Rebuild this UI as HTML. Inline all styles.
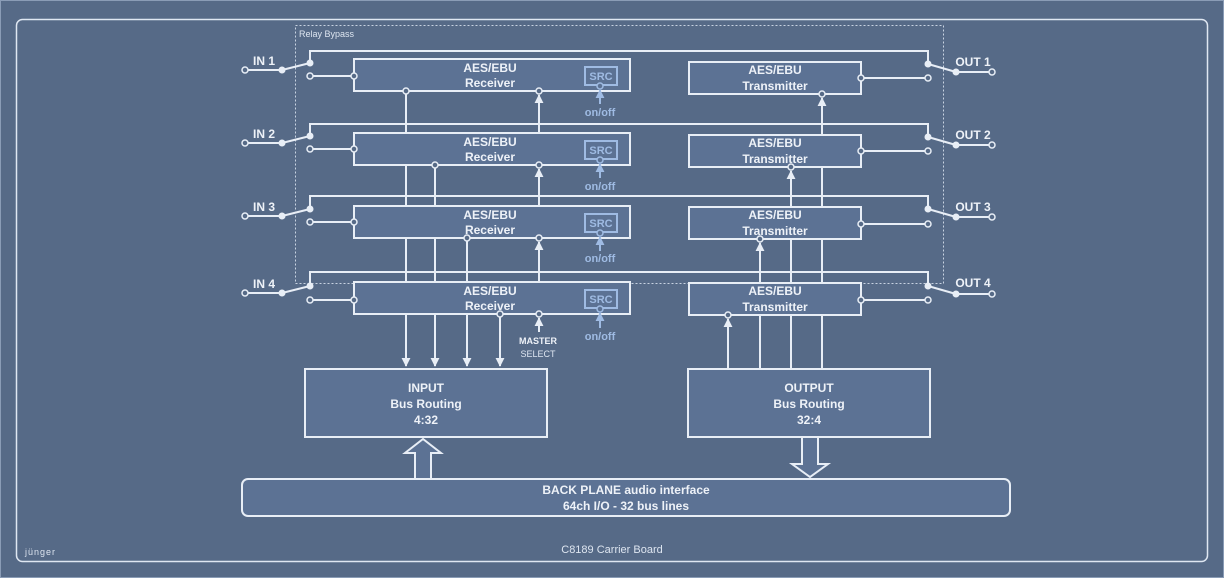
<!DOCTYPE html>
<html><head><meta charset="utf-8"><style>
html,body{margin:0;padding:0;background:#556983;}
svg{display:block;font-family:"Liberation Sans",sans-serif;}
.b{font-weight:bold;fill:#eef2f8;font-size:12px;text-anchor:middle;}
</style></head><body>
<svg width="1224" height="578" viewBox="0 0 1224 578" xmlns="http://www.w3.org/2000/svg">
<defs>
<marker id="ah" viewBox="0 0 10 10" refX="9" refY="5" markerWidth="9" markerHeight="9" markerUnits="userSpaceOnUse" orient="auto"><path d="M0,0 L10,5 L0,10 Z" fill="#e8eef6"/></marker>
<marker id="ab" viewBox="0 0 10 10" refX="9" refY="5" markerWidth="9" markerHeight="9" markerUnits="userSpaceOnUse" orient="auto"><path d="M0,0 L10,5 L0,10 Z" fill="#9fbbe3"/></marker>
</defs>
<rect x="0.5" y="0.5" width="1223" height="577" fill="#566a87" stroke="#8a9cb6"/>
<rect x="16.5" y="19.5" width="1191" height="542" rx="6" fill="#566a87" stroke="#dfe7f2" stroke-width="1.5"/>
<rect x="295.5" y="25.5" width="648" height="258" fill="none" stroke="#c8d3e2" stroke-dasharray="2,2"/>
<text x="299" y="37" font-size="9" fill="#dde5f0">Relay Bypass</text>

<g stroke="#e8eef6" stroke-width="2" fill="none">
<!-- bypass lines -->
<polyline points="310,63 310,51 928,51 928,64"/>
<polyline points="310,136 310,124 928,124 928,137"/>
<polyline points="310,209 310,196 928,196 928,209"/>
<polyline points="310,285 310,272 928,272 928,285"/>
<!-- input switch -->
<g>
<line x1="245" y1="70" x2="282" y2="70"/><line x1="282" y1="70" x2="310" y2="63"/><line x1="310" y1="76" x2="354" y2="76"/>
<line x1="245" y1="143" x2="282" y2="143"/><line x1="282" y1="143" x2="310" y2="136"/><line x1="310" y1="149" x2="354" y2="149"/>
<line x1="245" y1="216" x2="282" y2="216"/><line x1="282" y1="216" x2="310" y2="209"/><line x1="310" y1="222" x2="354" y2="222"/>
<line x1="245" y1="293" x2="282" y2="293"/><line x1="282" y1="293" x2="310" y2="286"/><line x1="310" y1="300" x2="354" y2="300"/>
</g>
<!-- output switch -->
<g>
<line x1="928" y1="64" x2="956" y2="72"/><line x1="956" y1="72" x2="992" y2="72"/><line x1="861" y1="78" x2="928" y2="78"/>
<line x1="928" y1="137" x2="956" y2="145"/><line x1="956" y1="145" x2="992" y2="145"/><line x1="861" y1="151" x2="928" y2="151"/>
<line x1="928" y1="209" x2="956" y2="217"/><line x1="956" y1="217" x2="992" y2="217"/><line x1="861" y1="224" x2="928" y2="224"/>
<line x1="928" y1="286" x2="956" y2="294"/><line x1="956" y1="294" x2="992" y2="294"/><line x1="861" y1="300" x2="928" y2="300"/>
</g>
<!-- receiver outputs -->
<line x1="406" y1="91" x2="406" y2="366" marker-end="url(#ah)"/>
<line x1="435" y1="165" x2="435" y2="366" marker-end="url(#ah)"/>
<line x1="467" y1="238" x2="467" y2="366" marker-end="url(#ah)"/>
<line x1="500" y1="314" x2="500" y2="366" marker-end="url(#ah)"/>
<!-- master select arrows -->
<line x1="539" y1="133" x2="539" y2="95" marker-end="url(#ah)"/>
<line x1="539" y1="206" x2="539" y2="169" marker-end="url(#ah)"/>
<line x1="539" y1="282" x2="539" y2="242" marker-end="url(#ah)"/>
<line x1="539" y1="332" x2="539" y2="318" marker-end="url(#ah)"/>
<!-- transmitter inputs -->
<line x1="822" y1="369" x2="822" y2="98" marker-end="url(#ah)"/>
<line x1="791" y1="369" x2="791" y2="171" marker-end="url(#ah)"/>
<line x1="760" y1="369" x2="760" y2="243" marker-end="url(#ah)"/>
<line x1="728" y1="369" x2="728" y2="319" marker-end="url(#ah)"/>
</g>

<g stroke="#e8eef6" stroke-width="2" fill="#5c7294">
<rect x="354" y="59" width="276" height="32"/>
<rect x="354" y="133" width="276" height="32"/>
<rect x="354" y="206" width="276" height="32"/>
<rect x="354" y="282" width="276" height="32"/>
<rect x="689" y="62" width="172" height="32"/>
<rect x="689" y="135" width="172" height="32"/>
<rect x="689" y="207" width="172" height="32"/>
<rect x="689" y="283" width="172" height="32"/>
<rect x="305" y="369" width="242" height="68"/>
<rect x="688" y="369" width="242" height="68"/>
<rect x="242" y="479" width="768" height="37" rx="6"/>
<path d="M415,478 L415,453 L405,453 L423,439 L441,453 L431,453 L431,478"/>
<path d="M802,438 L802,464 L792,464 L810,477 L828,464 L818,464 L818,438"/>
</g>

<!-- SRC -->
<g stroke="#9fbbe3" stroke-width="2" fill="none">
<rect x="585" y="67" width="32" height="18"/><rect x="585" y="141" width="32" height="18"/><rect x="585" y="214" width="32" height="18"/><rect x="585" y="290" width="32" height="18"/>
<line x1="600" y1="104" x2="600" y2="90" marker-end="url(#ab)"/>
<line x1="600" y1="178" x2="600" y2="164" marker-end="url(#ab)"/>
<line x1="600" y1="251" x2="600" y2="237" marker-end="url(#ab)"/>
<line x1="600" y1="328" x2="600" y2="313" marker-end="url(#ab)"/>
</g>
<g fill="#5c7294" stroke="#9fbbe3" stroke-width="1.5">
<circle cx="600" cy="86" r="3"/><circle cx="600" cy="160" r="3"/><circle cx="600" cy="233" r="3"/><circle cx="600" cy="309" r="3"/>
</g>
<g font-size="11" fill="#9fbbe3" text-anchor="middle" font-weight="bold">
<text x="601" y="80">SRC</text><text x="601" y="154">SRC</text><text x="601" y="227">SRC</text><text x="601" y="303">SRC</text>
<text x="600" y="116">on/off</text><text x="600" y="190">on/off</text><text x="600" y="262">on/off</text><text x="600" y="340">on/off</text>
</g>

<!-- circles -->
<g fill="#566a87" stroke="#e8eef6" stroke-width="1.5">
<circle cx="245" cy="70" r="3"/><circle cx="245" cy="143" r="3"/><circle cx="245" cy="216" r="3"/><circle cx="245" cy="293" r="3"/>
<circle cx="310" cy="76" r="3"/><circle cx="310" cy="149" r="3"/><circle cx="310" cy="222" r="3"/><circle cx="310" cy="300" r="3"/>
<circle cx="354" cy="76" r="3"/><circle cx="354" cy="149" r="3"/><circle cx="354" cy="222" r="3"/><circle cx="354" cy="300" r="3"/>
<circle cx="992" cy="72" r="3"/><circle cx="992" cy="145" r="3"/><circle cx="992" cy="217" r="3"/><circle cx="992" cy="294" r="3"/>
<circle cx="928" cy="78" r="3"/><circle cx="928" cy="151" r="3"/><circle cx="928" cy="224" r="3"/><circle cx="928" cy="300" r="3"/>
<circle cx="861" cy="78" r="3"/><circle cx="861" cy="151" r="3"/><circle cx="861" cy="224" r="3"/><circle cx="861" cy="300" r="3"/>
<circle cx="406" cy="91" r="3"/><circle cx="539" cy="91" r="3"/>
<circle cx="435" cy="165" r="3"/><circle cx="539" cy="165" r="3"/>
<circle cx="467" cy="238" r="3"/><circle cx="539" cy="238" r="3"/>
<circle cx="500" cy="314" r="3"/><circle cx="539" cy="314" r="3"/>
<circle cx="822" cy="94" r="3"/><circle cx="791" cy="167" r="3"/><circle cx="760" cy="239" r="3"/><circle cx="728" cy="315" r="3"/>
</g>
<g fill="#e8eef6">
<circle cx="282" cy="70" r="3.5"/><circle cx="282" cy="143" r="3.5"/><circle cx="282" cy="216" r="3.5"/><circle cx="282" cy="293" r="3.5"/>
<circle cx="310" cy="63" r="3.5"/><circle cx="310" cy="136" r="3.5"/><circle cx="310" cy="209" r="3.5"/><circle cx="310" cy="286" r="3.5"/>
<circle cx="928" cy="64" r="3.5"/><circle cx="928" cy="137" r="3.5"/><circle cx="928" cy="209" r="3.5"/><circle cx="928" cy="286" r="3.5"/>
<circle cx="956" cy="72" r="3.5"/><circle cx="956" cy="145" r="3.5"/><circle cx="956" cy="217" r="3.5"/><circle cx="956" cy="294" r="3.5"/>
</g>

<g class="b">
<text x="264" y="65">IN 1</text><text x="264" y="138">IN 2</text><text x="264" y="211">IN 3</text><text x="264" y="288">IN 4</text>
<text x="973" y="66">OUT 1</text><text x="973" y="139">OUT 2</text><text x="973" y="211">OUT 3</text><text x="973" y="287">OUT 4</text>
<text x="490" y="72">AES/EBU</text><text x="490" y="87">Receiver</text>
<text x="490" y="146">AES/EBU</text><text x="490" y="161">Receiver</text>
<text x="490" y="219">AES/EBU</text><text x="490" y="234">Receiver</text>
<text x="490" y="295">AES/EBU</text><text x="490" y="310">Receiver</text>
<text x="775" y="74">AES/EBU</text><text x="775" y="90">Transmitter</text>
<text x="775" y="147">AES/EBU</text><text x="775" y="163">Transmitter</text>
<text x="775" y="219">AES/EBU</text><text x="775" y="235">Transmitter</text>
<text x="775" y="295">AES/EBU</text><text x="775" y="311">Transmitter</text>
<text x="426" y="392">INPUT</text><text x="426" y="408">Bus Routing</text><text x="426" y="424">4:32</text>
<text x="809" y="392">OUTPUT</text><text x="809" y="408">Bus Routing</text><text x="809" y="424">32:4</text>
<text x="626" y="494">BACK PLANE audio interface</text><text x="626" y="510">64ch I/O - 32 bus lines</text>
<text x="538" y="344" font-size="9">MASTER</text>
</g>
<text x="538" y="357" font-size="9" fill="#dde5f0" text-anchor="middle">SELECT</text>
<text x="612" y="553" font-size="11" fill="#dde5f0" text-anchor="middle">C8189 Carrier Board</text>
<text x="25" y="555" font-size="9" fill="#dde5f0" letter-spacing="1">jünger</text>
</svg>
</body></html>
